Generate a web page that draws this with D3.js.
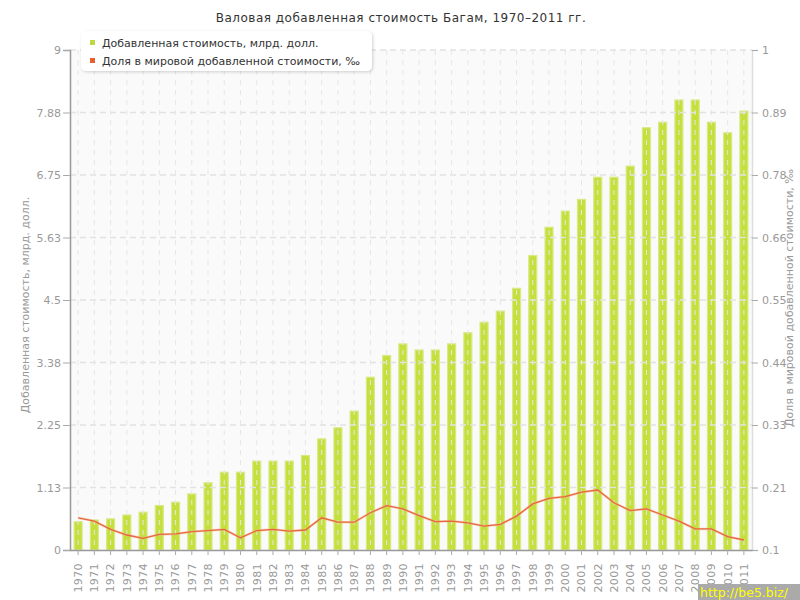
<!DOCTYPE html>
<html><head><meta charset="utf-8">
<script src="https://cdn.jsdelivr.net/npm/d3@7"></script>
<style>
html,body{margin:0;padding:0;background:#fff;}
svg{display:block;font-family:"DejaVu Sans",Verdana,sans-serif;}
</style></head>
<body><svg id="c" width="800" height="600"></svg>
<script>
const years = d3.range(1970, 2012).map(String);
const valueAdded = [0.51,0.54,0.56,0.63,0.68,0.80,0.86,1.01,1.21,1.40,
  1.40,1.60,1.60,1.60,1.70,2.00,2.20,2.50,3.11,3.50,
  3.71,3.60,3.60,3.71,3.91,4.10,4.30,4.71,5.30,5.81,
  6.10,6.31,6.71,6.71,6.91,7.60,7.70,8.10,8.10,7.70,
  7.51,7.90];
const worldShare = [0.158,0.152,0.137,0.127,0.121,0.128,0.129,0.133,0.135,0.137,
  0.122,0.135,0.137,0.134,0.136,0.158,0.150,0.150,0.167,0.180,
  0.174,0.162,0.151,0.152,0.149,0.143,0.146,0.161,0.183,0.193,
  0.196,0.204,0.208,0.185,0.171,0.174,0.163,0.152,0.138,0.138,
  0.124,0.118];
const leftTicks = [0,1.125,2.25,3.375,4.5,5.625,6.75,7.875,9];
const leftTickLabels = ["0","1.13","2.25","3.38","4.5","5.63","6.75","7.88","9"];
const rightTicks = [0.1,0.2125,0.325,0.4375,0.55,0.6625,0.775,0.8875,1];
const rightTickLabels = ["0.1","0.21","0.33","0.44","0.55","0.66","0.78","0.89","1"];
const title = "Валовая добавленная стоимость Багам, 1970–2011 гг.";
const seriesNames = ["Добавленная стоимость, млрд. долл.","Доля в мировой добавленной стоимости, ‰"];
const leftTitle = "Добавленная стоимость, млрд. долл.";
const rightTitle = "Доля в мировой добавленной стоимости, ‰";

const svg = d3.select("#c");
const L = 70, R = 752, T = 50, B = 550;
const x = d3.scaleBand().domain(years).range([L, R]);
const yL = d3.scaleLinear().domain([0, 9]).range([B, T]);
const yR = d3.scaleLinear().domain([0.1, 1]).range([B, T]);
const grey = "#999";

const defs = svg.append("defs");
const f = defs.append("filter").attr("id","sh").attr("x","-10%").attr("y","-30%").attr("width","120%").attr("height","160%");
f.append("feDropShadow").attr("dx",1).attr("dy",1).attr("stdDeviation",1.5).attr("flood-color","#000").attr("flood-opacity",0.18);

// plot background
svg.append("rect").attr("x",L).attr("y",T).attr("width",R-L).attr("height",B-T).attr("fill","#fafafa");

// bars
const bw = 8;
const bars = svg.append("g");
bars.selectAll("rect").data(valueAdded).join("rect")
  .attr("x",(d,i)=>x(years[i])+x.bandwidth()/2-bw/2)
  .attr("y",d=>yL(d))
  .attr("width",bw)
  .attr("height",d=>B-yL(d))
  .attr("fill","#c5df3c")
  .attr("stroke","#d6ea86").attr("stroke-width",1.2);

// grid (drawn over bars)
const grid = svg.append("g");
grid.selectAll("line.h").data(leftTicks.slice(1)).join("line")
  .attr("x1",L).attr("x2",R).attr("y1",d=>yL(d)).attr("y2",d=>yL(d))
  .attr("stroke","#e2e2e2").attr("stroke-width",1.5).attr("stroke-dasharray","6,4");
grid.selectAll("line.v").data(years).join("line")
  .attr("x1",d=>x(d)+x.bandwidth()/2).attr("x2",d=>x(d)+x.bandwidth()/2)
  .attr("y1",T).attr("y2",B)
  .attr("stroke","#e6e6e6").attr("stroke-width",1).attr("stroke-dasharray","5,5");

// line
const line = d3.line().x((d,i)=>x(years[i])+x.bandwidth()/2).y(d=>yR(d));
svg.append("path").datum(worldShare).attr("d",line)
  .attr("fill","none").attr("stroke","#f3b08f").attr("stroke-width",2.5).attr("opacity",0.5);
svg.append("path").datum(worldShare).attr("d",line)
  .attr("fill","none").attr("stroke","#e8683a").attr("stroke-width",1.3);

// axes
const axL = d3.axisLeft(yL).tickValues(leftTicks).tickFormat((d,i)=>leftTickLabels[i]).tickSize(7).tickPadding(2);
const gL = svg.append("g").attr("transform",`translate(${L},0)`).call(axL);
const axR = d3.axisRight(yR).tickValues(rightTicks).tickFormat((d,i)=>rightTickLabels[i]).tickSize(6).tickPadding(4);
const gR = svg.append("g").attr("transform",`translate(${R},0)`).call(axR);
const axB = d3.axisBottom(x).tickSize(5).tickSizeOuter(0);
const gB = svg.append("g").attr("transform",`translate(0,${B})`).call(axB);
[gL,gR,gB].forEach(g=>{
  g.selectAll("text").attr("fill",grey).style("font-size","11px").style("font-family","DejaVu Sans");
  g.selectAll("line").attr("stroke","#aaa");
  g.select(".domain").attr("stroke","#999").attr("stroke-width",1.5);
});
gR.select(".domain").attr("stroke","#ddd");
gB.selectAll("text").attr("transform","rotate(-90)").attr("text-anchor","end")
  .attr("dy","0.35em").attr("x",-13).attr("y",0).style("letter-spacing","0.4px");

// axis titles
svg.append("text").attr("transform","translate(29,305) rotate(-90)").attr("text-anchor","middle")
  .attr("fill",grey).style("font-size","11px").text(leftTitle);
svg.append("text").attr("transform","translate(793,298) rotate(-90)").attr("text-anchor","middle")
  .attr("fill",grey).style("font-size","11px").text(rightTitle);

// title
svg.append("text").attr("x",401).attr("y",22).attr("text-anchor","middle")
  .attr("fill","#333").style("font-size","12px").style("letter-spacing","0.5px").text(title);

// legend
const lg = svg.append("g");
lg.append("rect").attr("x",81).attr("y",31).attr("width",291).attr("height",40).attr("rx",5)
  .attr("fill","#fff").attr("filter","url(#sh)");
const colors = ["#bcd843","#e6612d"];
seriesNames.forEach((s,i)=>{
  lg.append("rect").attr("x",90).attr("y",40+i*18).attr("width",5).attr("height",5).attr("fill",colors[i]);
  lg.append("text").attr("x",102).attr("y",47+i*18).attr("fill","#333").style("font-size","11px").text(s);
});

// watermark
svg.append("rect").attr("x",698).attr("y",584).attr("width",102).attr("height",16).attr("fill","#aaa");
svg.append("text").attr("x",700).attr("y",597).attr("fill","#ffff00").style("font-size","12.5px").text("http://be5.biz/");
</script></body></html>
